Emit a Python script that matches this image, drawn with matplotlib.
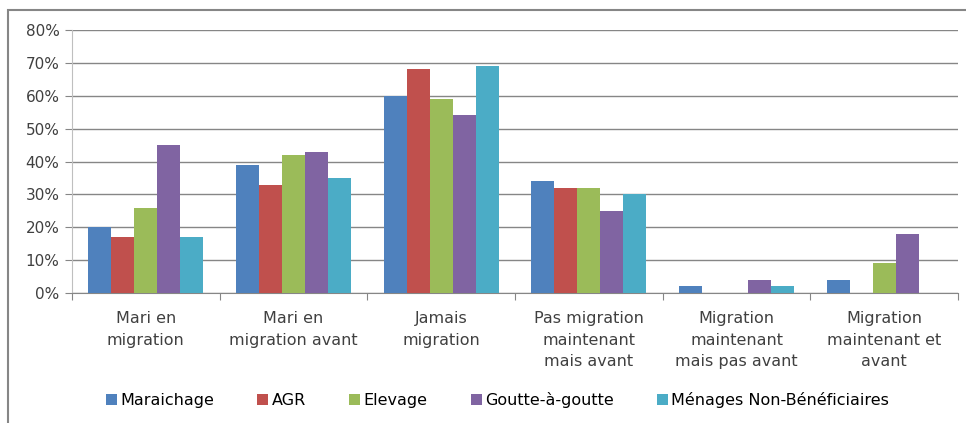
import matplotlib.pyplot as plt
import numpy as np
from matplotlib.patches import Rectangle

categories = ["Mari en\nmigration", "Mari en\nmigration avant", "Jamais\nmigration",
              "Pas migration\nmaintenant\nmais avant", "Migration\nmaintenant\nmais pas avant",
              "Migration\nmaintenant et\navant"]
series = ["Maraichage", "AGR", "Elevage", "Goutte-à-goutte", "Ménages Non-Bénéficiaires"]
maraichage = [20, 39, 60, 34, 2, 4]
agr = [17, 33, 68, 32, 0, 0]
elevage = [26, 42, 59, 32, 0, 9]
goutte = [45, 43, 54, 25, 4, 18]
non_benef = [17, 35, 69, 30, 2, 0]
values = [maraichage, agr, elevage, goutte, non_benef]
colors = ["#4F81BD", "#C0504D", "#9BBB59", "#8064A2", "#4BACC6"]

fig = plt.figure(figsize=(9.66, 4.23), dpi=100)
ax = fig.add_axes([72 / 966, 1 - 293 / 423, (958 - 72) / 966, (293 - 30) / 423])

# outer chart border (cut off at right and bottom like the reference)
fig.patches.append(Rectangle((8 / 966, -0.1), 1.2, 1.1 - 10 / 423, transform=fig.transFigure,
                             fill=False, edgecolor="#868686", linewidth=1.5))

x = np.arange(len(categories))
w = 0.156
for i, (name, vals) in enumerate(zip(series, values)):
    ax.bar(x + (i - 2) * w, vals, width=w, color=colors[i], label=name, zorder=3)

ax.set_xlim(-0.5, len(categories) - 0.5)
ax.set_ylim(0, 80)
ax.set_yticks(range(0, 81, 10))
ax.set_yticklabels([f"{v}%" for v in range(0, 81, 10)], fontsize=11, color="#404040")
ax.yaxis.grid(True, color="#868686", linewidth=1)
ax.set_axisbelow(True)

ax.set_xticks(np.arange(-0.5, len(categories), 1))
ax.set_xticklabels([])
ax.set_xticks(x, minor=True)
ax.set_xticklabels(categories, minor=True, fontsize=11.5, color="#404040", linespacing=1.55)
ax.tick_params(axis="x", which="minor", length=0, pad=13)
ax.tick_params(axis="x", which="major", length=5, color="#868686")
ax.tick_params(axis="y", length=5, color="#868686", pad=4)

for s in ["top", "right"]:
    ax.spines[s].set_visible(False)
ax.spines["left"].set_color("#BFBFBF")
ax.spines["bottom"].set_color("#868686")

fig.legend(loc="center", bbox_to_anchor=(0.515, 1 - 400 / 423), ncol=5, frameon=False,
           fontsize=11.5, handlelength=0.7, handleheight=0.7, handletextpad=0.2,
           columnspacing=2.7)

fig.savefig("out.png", dpi=100)
